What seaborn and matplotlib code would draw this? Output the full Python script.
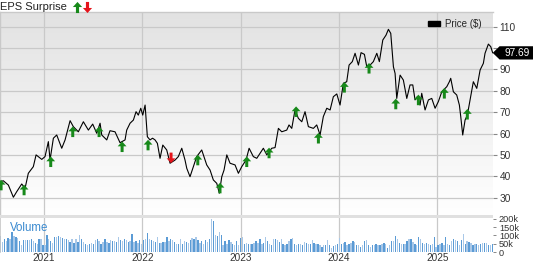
import numpy as np
import pandas as pd
import matplotlib
matplotlib.use("Agg")
import matplotlib.pyplot as plt
import seaborn as sns
from matplotlib.path import Path
from matplotlib.patches import Polygon, Rectangle, Patch
from matplotlib.lines import Line2D
from matplotlib.colors import LinearSegmentedColormap

# ---------------- data ----------------
price_t = [2020.552, 2020.586, 2020.637, 2020.688, 2020.722, 2020.773, 2020.807, 2020.840, 2020.891, 2020.919,
           2020.977, 2021.010, 2021.044, 2021.061, 2021.095, 2021.129, 2021.180, 2021.214, 2021.265, 2021.298,
           2021.349, 2021.400, 2021.451, 2021.495, 2021.536, 2021.570, 2021.587, 2021.638, 2021.671, 2021.722,
           2021.773, 2021.824, 2021.841, 2021.875, 2021.909, 2021.936, 2021.959, 2021.984, 2022.004, 2022.028,
           2022.051, 2022.078, 2022.104, 2022.129, 2022.153, 2022.180, 2022.208, 2022.248, 2022.282, 2022.333,
           2022.366, 2022.401, 2022.434, 2022.452, 2022.485, 2022.519, 2022.553, 2022.604, 2022.655, 2022.689,
           2022.722, 2022.757, 2022.783, 2022.808, 2022.831, 2022.859, 2022.892, 2022.943, 2022.977, 2023.011,
           2023.055, 2023.086, 2023.129, 2023.164, 2023.197, 2023.231, 2023.266, 2023.316, 2023.350, 2023.384,
           2023.418, 2023.469, 2023.492, 2023.520, 2023.553, 2023.587, 2023.622, 2023.655, 2023.689, 2023.740,
           2023.774, 2023.808, 2023.841, 2023.876, 2023.910, 2023.943, 2023.978, 2024.011, 2024.045, 2024.079,
           2024.103, 2024.136, 2024.164, 2024.198, 2024.225, 2024.259, 2024.283, 2024.317, 2024.350, 2024.385,
           2024.411, 2024.446, 2024.479, 2024.503, 2024.527, 2024.554, 2024.571, 2024.588, 2024.622, 2024.655,
           2024.690, 2024.723, 2024.751, 2024.774, 2024.798, 2024.825, 2024.842, 2024.876, 2024.910, 2024.944,
           2024.978, 2025.011, 2025.046, 2025.097, 2025.123, 2025.137, 2025.164, 2025.198, 2025.225, 2025.239,
           2025.259, 2025.283, 2025.306, 2025.334, 2025.367, 2025.402, 2025.436, 2025.469, 2025.486, 2025.520,
           2025.544, 2025.564]
price = [37.5, 37.9, 35.9, 30.2, 32.8, 36.4, 34.4, 41.4, 44.5, 50.0,
         47.9, 49.2, 56.2, 47.6, 57.8, 59.3, 53.1, 57.0, 66.0, 63.2,
         60.8, 65.5, 61.6, 64.4, 60.1, 64.8, 59.3, 57.0, 61.3, 60.8,
         55.7, 57.0, 61.6, 64.8, 66.3, 70.2, 68.6, 71.8, 68.6, 73.3,
         58.5, 57.0, 57.8, 57.0, 55.4, 48.4, 54.6, 52.3, 46.1, 47.6,
         49.2, 53.1, 47.6, 43.7, 39.8, 44.5, 49.2, 52.3, 45.3, 42.9,
         38.3, 36.7, 32.1, 39.8, 42.9, 50.0, 46.1, 45.3, 41.4, 44.5,
         47.6, 53.1, 49.2, 48.4, 50.7, 53.1, 50.0, 53.1, 53.4, 62.4,
         60.8, 61.6, 64.0, 62.4, 71.0, 67.1, 65.5, 70.2, 63.2, 62.4,
         64.0, 59.3, 67.9, 71.8, 71.0, 77.2, 78.5, 73.3, 83.5, 84.2,
         92.0, 93.6, 97.5, 92.0, 97.8, 97.0, 91.2, 92.0, 93.6, 97.5,
         93.6, 103.7, 106.0, 108.7, 106.8, 91.2, 88.1, 76.4, 87.3, 85.0,
         76.4, 82.7, 82.7, 75.7, 77.2, 73.3, 78.8, 71.0, 75.7, 76.4,
         71.8, 74.9, 79.5, 81.9, 84.2, 85.8, 79.5, 78.0, 73.3, 67.9,
         59.3, 66.3, 68.6, 75.7, 84.2, 81.1, 89.7, 92.8, 97.5, 101.8,
         100.6, 97.69]

eps_t = [2020.563, 2020.797, 2021.068, 2021.292, 2021.560, 2021.794, 2022.058, 2022.292, 2022.564, 2022.790,
         2023.062, 2023.289, 2023.564, 2023.791, 2024.055, 2024.306, 2024.578, 2024.808, 2025.072, 2025.306]
eps_y = [35.9, 33.6, 46.8, 60.8, 60.8, 53.8, 54.6, 48.6, 47.6, 34.5,
         46.8, 50.9, 70.2, 57.8, 81.6, 90.5, 73.8, 75.7, 78.8, 69.0]
eps_beat = [True, True, True, True, True, True, True, False, True, True,
            True, True, True, True, True, True, True, True, True, True]

volume_k = [97, 61, 81, 65, 85, 81, 121, 97, 91, 85, 65, 40, 71, 71, 75, 75, 77, 65, 57, 50,
            77, 77, 40, 40, 101, 77, 65, 57, 91, 91, 97, 91, 85, 81, 77, 71, 61, 81, 55, 81,
            61, 105, 77, 61, 50, 44, 50, 57, 50, 71, 77, 65, 50, 61, 81, 61, 57, 71, 65, 69,
            61, 91, 71, 65, 77, 71, 61, 65, 111, 61, 65, 57, 71, 50, 71, 81, 113, 81, 71, 65,
            61, 91, 57,
            57, 61, 61, 91, 65, 81, 71, 61, 50, 50, 77, 50, 65, 61, 57, 71, 85, 81, 89, 71,
            57, 65, 50, 71, 61, 81, 202, 186, 101, 97, 121, 105, 40, 65, 50, 71, 61, 50, 40, 65,
            44, 85, 91, 50, 57, 46, 50, 50, 57, 65, 57, 77, 50, 57, 91, 65, 50, 44, 81, 77,
            71, 61, 81, 50, 40, 50, 65, 81, 85, 50, 44, 46, 46, 40, 61, 57, 50, 50, 71, 57,
            50, 50, 44, 30,
            40, 40, 71, 40, 24, 36, 44, 50, 85, 50, 57, 61, 40, 46, 57, 65, 61, 40, 40, 30,
            40, 65, 71, 40, 30, 40, 44, 50, 40, 44, 50, 57, 50, 24, 40, 65, 65, 97, 77, 57,
            50, 50, 50, 65, 77, 81, 61, 50, 40, 91, 81, 57, 50, 57, 50, 44, 50, 91, 30, 40,
            50, 57, 40, 91, 50, 44, 65, 77, 71, 65, 40, 71, 111, 50, 65, 61, 57, 40, 50, 50,
            40, 50, 57, 57, 57, 40, 40, 50]

year_ticks = [2021, 2022, 2023, 2024, 2025]
price_ticks = [30, 40, 50, 60, 70, 80, 90, 100, 110]
vol_ticks = [0, 50, 100, 150, 200]
vol_tick_labels = ["0", "50k", "100k", "150k", "200k"]
last_price = "97.69"

# ---------------- style ----------------
sns.set_theme(style="white")
plt.rcParams['font.family'] = ['Liberation Sans', 'DejaVu Sans']

W, H = 533, 262
fig = plt.figure(figsize=(W / 100, H / 100), dpi=100)
fig.patch.set_facecolor("white")

x0, x1 = 2020.552, 2025.564
grid_c = "#c9c9c9"
text_c = "#333333"

def fy(px):
    return 1 - px / H

ax = fig.add_axes([0, fy(215), 492.7 / W, fy(12) - fy(215)])
axv = fig.add_axes([0, fy(252), 492.7 / W, fy(217.5) - fy(252)], sharex=ax)

# gradient background for price panel
grad = np.linspace(0, 1, 256).reshape(-1, 1)
cmap = LinearSegmentedColormap.from_list("bg", ["#e2e2e2", "#ffffff"])
ax.imshow(grad, cmap=cmap, aspect="auto", extent=[0, 1, 0, 1], transform=ax.transAxes,
          origin="upper", zorder=0)

ax.set_xlim(x0, x1)
ax.set_ylim(21.9, 116.8)

for yv in price_ticks:
    ax.axhline(yv, color=grid_c, lw=0.9, zorder=1)
for xv in year_ticks:
    ax.axvline(xv, color=grid_c, lw=0.9, zorder=1)
    axv.axvline(xv, color=grid_c, lw=0.9, zorder=0)

sns.lineplot(x=price_t, y=price, ax=ax, color="black", lw=0.8, zorder=3)

# arrow markers
up_arrow = Path([(-0.5, 0.05), (0, 0.6), (0.5, 0.05), (0.17, 0.05), (0.17, -0.6),
                 (-0.17, -0.6), (-0.17, 0.05), (-0.5, 0.05)],
                [Path.MOVETO] + [Path.LINETO] * 6 + [Path.CLOSEPOLY])
down_arrow = Path([(x, -y) for x, y in up_arrow.vertices], up_arrow.codes)
green = "#17891a"
red = "#e5141b"

eps_df = pd.DataFrame({"t": eps_t, "y": eps_y, "beat": eps_beat})
beats = eps_df[eps_df.beat]
misses = eps_df[~eps_df.beat]
sns.scatterplot(data=beats, x="t", y="y", ax=ax, marker=up_arrow, s=58, color=green,
                edgecolor="none", linewidth=0, zorder=4)
sns.scatterplot(data=misses, x="t", y="y", ax=ax, marker=down_arrow, s=58, color=red,
                edgecolor="none", linewidth=0, zorder=4)

ax.set_xlabel("")
ax.set_ylabel("")
ax.yaxis.tick_right()
ax.set_yticks(price_ticks)
# the "100" label sits under the last-price tag in the reference
ax.set_yticklabels(["" if v == 100 else str(v) for v in price_ticks])
ax.tick_params(axis="y", which="both", right=True, length=3, width=0.8, color="#888888",
               labelsize=7.3, labelcolor=text_c, pad=2)
ax.tick_params(axis="x", bottom=False, labelbottom=False)
for s in ["right", "bottom"]:
    ax.spines[s].set_visible(False)
for s in ["top", "left"]:
    ax.spines[s].set_color(grid_c)
    ax.spines[s].set_linewidth(1.0)

# price tag
tp = float(last_price)
tag = Polygon([(1.0, tp), (1.014, tp + 3.1), (1.085, tp + 3.1), (1.085, tp - 3.1), (1.014, tp - 3.1)],
              closed=True, facecolor="black", edgecolor="none",
              transform=ax.get_yaxis_transform(), clip_on=False, zorder=20)
ax.add_patch(tag)
ax.text(1.05, tp, last_price, transform=ax.get_yaxis_transform(), color="white",
        fontsize=7.3, ha="center", va="center", zorder=21, clip_on=False)

# legend
leg = ax.legend(handles=[Patch(facecolor="black", edgecolor="black", label="Price ($)")],
                loc="upper right", bbox_to_anchor=(0.99, 0.995), frameon=False,
                fontsize=7, handlelength=1.3, handleheight=0.45, handletextpad=0.5,
                borderaxespad=0.2)

# volume panel
axv.set_facecolor("white")
vol_t = np.linspace(x0 + 0.004, x1 - 0.004, len(volume_k))
colors = ["#5b9bd5" if i % 2 == 0 else "#a9c8e8" for i in range(len(volume_k))]
axv.bar(vol_t, volume_k, width=0.0135, color=colors, linewidth=0, zorder=2)
axv.set_ylim(0, 209)
axv.set_xlim(x0, x1)
axv.yaxis.tick_right()
axv.set_yticks(vol_ticks)
axv.set_yticklabels(vol_tick_labels)
axv.tick_params(axis="y", right=True, length=2.5, width=0.7, color="#888888",
                labelsize=6.6, labelcolor=text_c, pad=2)
axv.set_xticks(year_ticks)
axv.set_xticklabels([str(y) for y in year_ticks])
axv.tick_params(axis="x", bottom=False, length=0, labelsize=7.2, labelcolor=text_c, pad=0.5)
for s in ["top", "right", "bottom"]:
    axv.spines[s].set_visible(False)
axv.spines["left"].set_color(grid_c)
axv.text(0.02, 0.7, "Volume", transform=axv.transAxes, color="#3a8ad0", fontsize=8.3,
         ha="left", va="center")

# separator band
fig.add_artist(Rectangle((0, fy(217.5)), 492.7 / W, fy(215) - fy(217.5),
                         transform=fig.transFigure, facecolor="#e0e0e0", edgecolor="none"))

# title
fig.text(0.0, fy(6.5), "EPS Surprise", fontsize=8, color="#222222", ha="left", va="center")
fig.add_artist(Line2D([76.5 / W], [fy(6.5)], marker=up_arrow, markersize=8, color=green,
                      markeredgewidth=0, linestyle="none", transform=fig.transFigure))
fig.add_artist(Line2D([86.5 / W], [fy(6.5)], marker=down_arrow, markersize=8, color=red,
                      markeredgewidth=0, linestyle="none", transform=fig.transFigure))

fig.savefig("out.png", dpi=100)
